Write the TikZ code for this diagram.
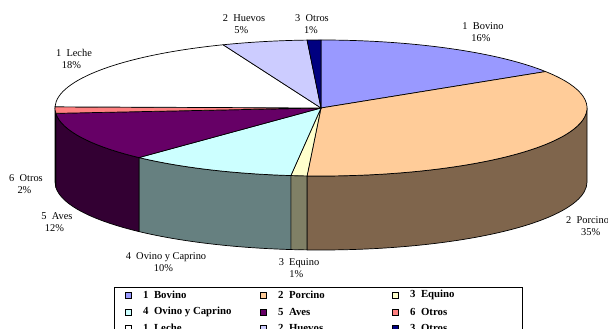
\documentclass[tikz,border=0pt]{standalone}
\usepackage{fontspec}
\setmainfont{Liberation Serif}
\begin{document}
\begin{tikzpicture}[x=1pt,y=1pt,
  lbl/.style={font=\fontsize{10.4}{12.5}\selectfont, align=center, inner sep=0pt},
  leg/.style={font=\bfseries\fontsize{10.8}{12}\selectfont, anchor=west, inner sep=0pt},
  mk/.style={draw=black, line width=0.6pt, minimum size=6pt, inner sep=0pt},
  sl/.style={draw=black, line width=0.7pt, line join=round}]
\definecolor{cBov}{HTML}{9999FF}
\definecolor{cPor}{HTML}{FFCC99}
\definecolor{cEqu}{HTML}{FFFFCC}
\definecolor{cOvi}{HTML}{CCFFFF}
\definecolor{cAve}{HTML}{660066}
\definecolor{cOtA}{HTML}{FF8080}
\definecolor{cLec}{HTML}{FFFFFF}
\definecolor{cHue}{HTML}{CCCCFF}
\definecolor{cOtB}{HTML}{000080}
\definecolor{sPor}{HTML}{7F654C}
\definecolor{sEqu}{HTML}{808066}
\definecolor{sOvi}{HTML}{668080}
\definecolor{sAve}{HTML}{330033}
\definecolor{sOtA}{HTML}{804040}
\useasboundingbox (0,0) rectangle (608,329);
\coordinate (C) at (321,221);
% side faces
\foreach \a/\b/\c in {0/-93/sPor, -93/-96.5/sEqu, -96.5/-133.2/sOvi, -133.2/-175.5/sAve, -175.5/-180/sOtA}{
  \path[sl, fill=\c] (C) ++(\a:266pt and 68pt) arc[start angle=\a, end angle=\b, x radius=266pt, y radius=68pt]
    -- ++(0,-74) arc[start angle=\b, end angle=\a, x radius=266pt, y radius=68pt] -- cycle;
}
% top sectors
\foreach \a/\b/\c in {90/32.4/cBov, 32.4/-93/cPor, -93/-96.5/cEqu, -96.5/-133.2/cOvi, -133.2/-175.5/cAve, -175.5/-181/cOtA, -181/-248.4/cLec, -248.4/-267/cHue, -267/-270/cOtB}{
  \path[sl, fill=\c] (C) -- ++(\a:266pt and 68pt) arc[start angle=\a, end angle=\b, x radius=266pt, y radius=68pt] -- cycle;
}
% labels
\node[lbl] (lBov) at (483,297) {1\hspace{0.5em}Bovino\\16\%\hspace*{0.4em}};
\node[lbl, anchor=north west] (lPor) at (566,113) {2\hspace{0.5em}Porcino\\\hspace*{0.6em}35\%};
\node[lbl] (lEqu) at (299,61) {3\hspace{0.5em}Equino\\1\%\hspace*{0.5em}};
\node[lbl] (lOvi) at (166,67) {4\hspace{0.5em}Ovino y Caprino\\10\%\hspace*{0.5em}};
\node[lbl] (lAve) at (57,107) {5\hspace{0.5em}Aves\\12\%\hspace*{0.5em}};
\node[lbl] (lOtA) at (26,145) {6\hspace{0.5em}Otros\\2\%\hspace*{0.3em}};
\node[lbl] (lLec) at (74,270) {1\hspace{0.5em}Leche\\18\%\hspace*{0.5em}};
\node[lbl] (lHue) at (244,305) {2\hspace{0.5em}Huevos\\5\%\hspace*{0.5em}};
\node[lbl] (lOtB) at (312,305) {3\hspace{0.5em}Otros\\1\%\hspace*{0.2em}};
% legend
\node[draw=black, line width=0.7pt, minimum width=408pt, minimum height=50pt, anchor=north west, inner sep=0pt] (legbox) at (114,42) {};
\foreach \n/\x/\y/\c/\t in {
  a/128/34/cBov/1\hspace{0.5em}Bovino, b/263/34/cPor/2\hspace{0.5em}Porcino, c/395/34/cEqu/3\hspace{0.5em}Equino,
  d/128/17/cOvi/4\hspace{0.5em}Ovino y Caprino, e/263/17/cAve/5\hspace{0.5em}Aves, f/395/17/cOtA/6\hspace{0.5em}Otros,
  g/128/1/cLec/1\hspace{0.5em}Leche, h/263/1/cHue/2\hspace{0.5em}Huevos, i/395/1/cOtB/3\hspace{0.5em}Otros}{
  \node[mk, fill=\c] (m\n) at (\x,\y) {};
  \node[leg] (t\n) at (\x+15,\y) {\t};
}
\end{tikzpicture}
\end{document}
